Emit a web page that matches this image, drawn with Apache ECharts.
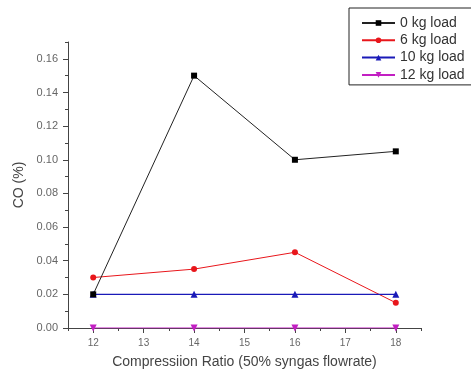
<!DOCTYPE html>
<html>
<head>
<meta charset="utf-8">
<script src="https://cdn.jsdelivr.net/npm/echarts@6/dist/echarts.min.js"></script>
<style>
  html, body { margin: 0; padding: 0; background: #fff; }
  #chart { width: 471px; height: 374px; }
</style>
</head>
<body>
<div id="chart"></div>
<script>
// compression ratio values
const ratios = [12, 14, 16, 18];
// CO (%) for each load
const load0 = [0.02, 0.15, 0.10, 0.105];
const load6 = [0.03, 0.035, 0.045, 0.015];
const load10 = [0.02, 0.02, 0.02, 0.02];
const load12 = [0, 0, 0, 0];
const seriesNames = ["0 kg load", "6 kg load", "10 kg load", "12 kg load"];
const xMajor = [12, 13, 14, 15, 16, 17, 18];
const yMajor = [0, 0.02, 0.04, 0.06, 0.08, 0.1, 0.12, 0.14, 0.16];

const font = "Liberation Sans";
const pairs = (ys) => ratios.map((x, i) => [x, ys[i]]);

const chart = echarts.init(document.getElementById("chart"));

const option = {
  animation: false,
  textStyle: { fontFamily: font },
  grid: { left: 68, right: 50, top: 42, bottom: 45 },
  legend: {
    left: 349,
    top: 8,
    orient: "vertical",
    itemGap: 3.3,
    itemWidth: 33,
    itemHeight: 7,
    padding: [8, 30, 3, 12],
    borderColor: "#222",
    borderWidth: 1,
    textStyle: { fontFamily: font, fontSize: 14, color: "#333" },
    data: seriesNames
  },
  xAxis: [
    {
      type: "value",
      min: 11.5,
      max: 18.5,
      interval: 0.5,
      name: "Compressiion Ratio (50% syngas flowrate)",
      nameLocation: "middle",
      nameGap: 27,
      nameTextStyle: { fontSize: 14, color: "#444" },
      axisLine: { lineStyle: { color: "#444", width: 1 } },
      axisTick: { length: 3, lineStyle: { color: "#444" } },
      axisLabel: {
        fontSize: 10,
        color: "#666",
        margin: 10,
        formatter: (v) => (Number.isInteger(v) ? String(v) : "")
      },
      splitLine: { show: false }
    },
    {
      type: "value",
      position: "bottom",
      min: 11.5,
      max: 18.5,
      axisLine: { show: false },
      axisTick: { show: true, length: 5, customValues: xMajor, lineStyle: { color: "#444" } },
      axisLabel: { show: false },
      splitLine: { show: false }
    }
  ],
  yAxis: [
    {
      type: "value",
      min: 0,
      max: 0.17,
      interval: 0.01,
      name: "CO (%)",
      nameLocation: "middle",
      nameGap: 36,
      nameTextStyle: { fontSize: 14, color: "#444" },
      axisLine: { show: true, lineStyle: { color: "#444", width: 1 } },
      axisTick: { show: true, length: 3, lineStyle: { color: "#444" } },
      axisLabel: {
        fontSize: 11,
        color: "#666",
        margin: 10,
        formatter: (v) => (Math.round(v * 100) % 2 === 0 && v < 0.165 ? v.toFixed(2) : "")
      },
      splitLine: { show: false }
    },
    {
      type: "value",
      position: "left",
      offset: 0,
      min: 0,
      max: 0.17,
      axisLine: { show: false },
      axisTick: { show: true, length: 5, customValues: yMajor, lineStyle: { color: "#444" } },
      axisLabel: { show: false },
      splitLine: { show: false }
    }
  ],
  series: [
    {
      name: seriesNames[0],
      type: "line",
      data: pairs(load0),
      symbol: "rect",
      symbolSize: 6,
      itemStyle: { color: "#000" },
      lineStyle: { color: "#222", width: 1 },
      z: 4
    },
    {
      name: seriesNames[1],
      type: "line",
      data: pairs(load6),
      symbol: "circle",
      symbolSize: 6,
      itemStyle: { color: "#e8161b" },
      lineStyle: { color: "#e8161b", width: 1 },
      z: 3
    },
    {
      name: seriesNames[2],
      type: "line",
      data: pairs(load10),
      symbol: "triangle",
      symbolSize: 7,
      itemStyle: { color: "#1a1ab8" },
      lineStyle: { color: "#1a1ab8", width: 1.3 },
      z: 3
    },
    {
      name: seriesNames[3],
      type: "line",
      data: pairs(load12),
      symbol: "triangle",
      symbolRotate: 180,
      symbolSize: 7,
      itemStyle: { color: "#c21fc2" },
      lineStyle: { color: "#c21fc2", width: 1 },
      z: 2
    }
  ]
};

chart.setOption(option);
</script>
</body>
</html>
